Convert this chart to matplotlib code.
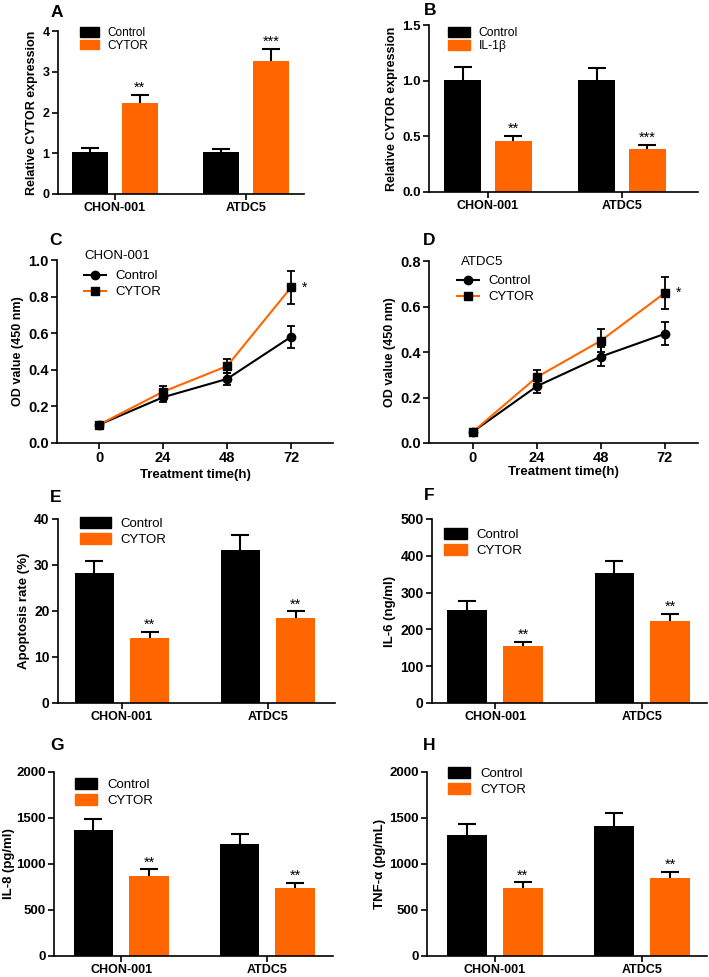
import matplotlib
matplotlib.use("Agg")
import matplotlib.pyplot as plt
from matplotlib.patches import Patch
from matplotlib.lines import Line2D

plt.rcParams["font.family"] = ["Liberation Sans", "DejaVu Sans"]

ORANGE = "#ff6600"

cells = ["CHON-001", "ATDC5"]

# A
a_ctrl = [1.02, 1.02]
a_ctrl_err = [0.11, 0.09]
a_cytor = [2.24, 3.26]
a_cytor_err = [0.20, 0.31]
a_stars = ["**", "***"]

# B
b_ctrl = [1.01, 1.01]
b_ctrl_err = [0.11, 0.10]
b_il = [0.46, 0.39]
b_il_err = [0.045, 0.035]
b_stars = ["**", "***"]

# C / D
hours = [0, 24, 48, 72]
c_ctrl = [0.10, 0.25, 0.35, 0.58]
c_ctrl_err = [0.01, 0.025, 0.035, 0.06]
c_cytor = [0.10, 0.28, 0.42, 0.85]
c_cytor_err = [0.01, 0.03, 0.04, 0.09]
d_ctrl = [0.05, 0.25, 0.38, 0.48]
d_ctrl_err = [0.01, 0.03, 0.04, 0.05]
d_cytor = [0.05, 0.29, 0.45, 0.66]
d_cytor_err = [0.01, 0.03, 0.05, 0.07]

# E
e_ctrl = [28.2, 33.2]
e_ctrl_err = [2.7, 3.4]
e_cytor = [14.2, 18.4]
e_cytor_err = [1.3, 1.5]

# F
f_ctrl = [252, 352]
f_ctrl_err = [25, 35]
f_cytor = [154, 223]
f_cytor_err = [12, 20]

# G
g_ctrl = [1370, 1215]
g_ctrl_err = [115, 112]
g_cytor = [870, 737]
g_cytor_err = [72, 60]

# H
h_ctrl = [1314, 1416]
h_ctrl_err = [123, 138]
h_cytor = [737, 846]
h_cytor_err = [62, 72]

W, H = 709, 977
fig = plt.figure(figsize=(W / 100, H / 100), dpi=100)


def add_ax(l, t, r, b):
    return fig.add_axes([l / W, 1 - b / H, (r - l) / W, (b - t) / H])


def style(ax, yfs, xfs):
    for s in ["top", "right"]:
        ax.spines[s].set_visible(False)
    for s in ["left", "bottom"]:
        ax.spines[s].set_linewidth(1.2)
    ax.tick_params(width=1.2, length=4, pad=2)
    ax.tick_params(axis="y", labelsize=yfs)
    ax.tick_params(axis="x", labelsize=xfs)
    for lab in ax.get_xticklabels() + ax.get_yticklabels():
        lab.set_fontweight("bold")


def bar_panel(ax, ctrl, ctrl_err, trt, trt_err, trt_label, stars, yticks, ylabel,
              xlim, leg_xy, leg_fs, hlen, lspace, yfs=9.5, ylfs=9, ylpad=3):
    x = list(range(len(cells)))
    xc = [i - 0.19 for i in x]
    xt = [i + 0.19 for i in x]
    ax.bar(xc, ctrl, width=0.27, color="black", zorder=2)
    ax.bar(xt, trt, width=0.27, color=ORANGE, zorder=2)
    ax.errorbar(xc, ctrl, yerr=ctrl_err, fmt="none", ecolor="black", elinewidth=1.5,
                capsize=6.5, capthick=1.5, zorder=1)
    ax.errorbar(xt, trt, yerr=trt_err, fmt="none", ecolor="black", elinewidth=1.5,
                capsize=6.5, capthick=1.5, zorder=1)
    for xi, yi, ei, s in zip(xt, trt, trt_err, stars):
        ax.annotate(s, (xi, yi + ei), xytext=(0, 0), textcoords="offset points",
                    ha="center", va="bottom", fontsize=10.5)
    ax.set_xticks(x)
    ax.set_xticklabels(cells)
    ax.set_xlim(*xlim)
    ax.set_yticks(yticks)
    ax.set_ylim(yticks[0], yticks[-1])
    ax.set_ylabel(ylabel, fontsize=ylfs, fontweight="bold", labelpad=ylpad)
    handles = [Patch(color="black", label="Control"), Patch(color=ORANGE, label=trt_label)]
    ax.legend(handles=handles, loc="upper left", bbox_to_anchor=leg_xy, frameon=False,
              fontsize=leg_fs, borderpad=0, borderaxespad=0, handlelength=hlen,
              handleheight=0.85, handletextpad=0.75, labelspacing=lspace)
    style(ax, yfs, 9)


def line_panel(ax, ctrl, ctrl_err, trt, trt_err, cell, yticks, xlim, cell_xy, leg_xy, xlpad):
    ax.errorbar(hours, ctrl, yerr=ctrl_err, color="black", lw=1.5, marker="o", ms=6,
                mfc="black", mec="black", ecolor="black", elinewidth=1.3,
                capsize=3, capthick=1.3, zorder=3)
    ax.errorbar(hours, trt, yerr=trt_err, color=ORANGE, lw=1.5, marker="s", ms=6,
                mfc="black", mec="black", ecolor="black", elinewidth=1.3,
                capsize=3, capthick=1.3, zorder=4)
    ax.annotate("*", (hours[-1], trt[-1]), xytext=(8, 0), textcoords="offset points",
                ha="left", va="center", fontsize=10)
    ax.set_xticks(hours)
    ax.set_xlim(*xlim)
    ax.set_yticks(yticks)
    ax.set_yticklabels([f"{v:.1f}" for v in yticks])
    ax.set_ylim(yticks[0], yticks[-1])
    ax.set_ylabel("OD value (450 nm)", fontsize=9, fontweight="bold", labelpad=3)
    ax.set_xlabel("Treatment time(h)", fontsize=9.5, fontweight="bold", labelpad=xlpad)
    ax.text(cell_xy[0], cell_xy[1], cell, transform=ax.transAxes, fontsize=9.5,
            ha="left", va="center")
    handles = [
        Line2D([], [], color="black", lw=1.5, marker="o", ms=6, mfc="black", label="Control"),
        Line2D([], [], color=ORANGE, lw=1.5, marker="s", ms=6, mfc="black", mec="black", label="CYTOR"),
    ]
    ax.legend(handles=handles, loc="upper left", bbox_to_anchor=leg_xy, frameon=False,
              fontsize=9.5, borderpad=0, borderaxespad=0, handlelength=1.7,
              handletextpad=0.7, labelspacing=0.3)
    style(ax, 10.5, 10.5)


axA = add_ax(58, 31, 304, 194)
bar_panel(axA, a_ctrl, a_ctrl_err, a_cytor, a_cytor_err, "CYTOR", a_stars,
          [0, 1, 2, 3, 4], "Relative CYTOR expression", (-0.435, 1.443),
          (0.089, 1.025), 8.5, 1.6, 0.05, yfs=9)

axB = add_ax(429, 25, 698, 192)
bar_panel(axB, b_ctrl, b_ctrl_err, b_il, b_il_err, "IL-1β", b_stars,
          [0.0, 0.5, 1.0, 1.5], "Relative CYTOR expression", (-0.44, 1.567),
          (0.07, 0.988), 8.7, 1.8, 0.1, yfs=9.5)
axB.set_yticklabels(["0.0", "0.5", "1.0", "1.5"], fontweight="bold")

axC = add_ax(57, 260, 333, 443)
line_panel(axC, c_ctrl, c_ctrl_err, c_cytor, c_cytor_err, "CHON-001",
           [0.0, 0.2, 0.4, 0.6, 0.8, 1.0], (-15.75, 87.75), (0.10, 1.02), (0.098, 0.945), 2.5)

axD = add_ax(429, 261, 698, 443)
line_panel(axD, d_ctrl, d_ctrl_err, d_cytor, d_cytor_err, "ATDC5",
           [0.0, 0.2, 0.4, 0.6, 0.8], (-16.5, 84.4), (0.119, 0.995), (0.104, 0.923), 0.5)

axE = add_ax(58, 519, 335, 703)
bar_panel(axE, e_ctrl, e_ctrl_err, e_cytor, e_cytor_err, "CYTOR", ["**", "**"],
          [0, 10, 20, 30, 40], "Apoptosis rate (%)", (-0.438, 1.459),
          (0.079, 1.01), 9.5, 2.35, 0.25, yfs=10, ylfs=9.5)

axF = add_ax(432, 519, 707, 703)
bar_panel(axF, f_ctrl, f_ctrl_err, f_cytor, f_cytor_err, "CYTOR", ["**", "**"],
          [0, 100, 200, 300, 400, 500], "IL-6 (ng/ml)", (-0.43, 1.44),
          (0.044, 0.95), 9.5, 1.7, 0.25, yfs=10, ylfs=9.5)

axG = add_ax(54, 772, 333, 956)
bar_panel(axG, g_ctrl, g_ctrl_err, g_cytor, g_cytor_err, "CYTOR", ["**", "**"],
          [0, 500, 1000, 1500, 2000], "IL-8 (pg/ml)", (-0.46, 1.45),
          (0.075, 0.967), 9.5, 1.7, 0.25, yfs=9.5, ylfs=9.5, ylpad=1)

axH = add_ax(427, 772, 707, 956)
bar_panel(axH, h_ctrl, h_ctrl_err, h_cytor, h_cytor_err, "CYTOR", ["**", "**"],
          [0, 500, 1000, 1500, 2000], "TNF-α (pg/mL)", (-0.46, 1.44),
          (0.075, 1.027), 9.5, 1.7, 0.25, yfs=9.5, ylfs=9.5, ylpad=2)

# panel letters
letters = [("A", 51, 5), ("B", 424, 3), ("C", 49, 233), ("D", 423, 233),
           ("E", 50, 490), ("F", 424, 488), ("G", 50, 738), ("H", 423, 738)]
for s, px, py in letters:
    fig.text(px / W, 1 - py / H, s, fontsize=12.5, fontweight="bold", ha="left", va="top")

fig.savefig("out.png", dpi=100)
